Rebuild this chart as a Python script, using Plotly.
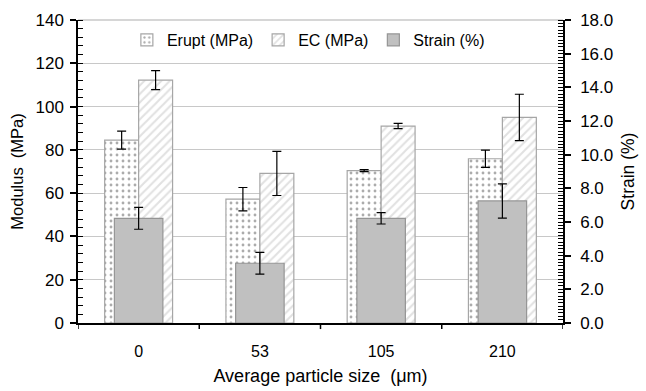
import plotly.graph_objects as go

categories = ["0", "53", "105", "210"]
erupt = [84.5, 57.2, 70.4, 75.9]
erupt_err = [4.2, 5.4, 0.5, 4.0]
ec = [112.2, 69.1, 91.0, 95.0]
ec_err = [4.4, 10.2, 1.2, 10.7]
strain = [6.22, 3.55, 6.22, 7.25]
strain_err = [0.65, 0.65, 0.34, 1.02]

FONT = "Liberation Sans, Arial, sans-serif"

fig = go.Figure()
fig.add_trace(go.Bar(
    x=categories, y=erupt, name="Erupt (MPa)", width=0.28, offset=-0.28,
    marker=dict(color="white", line=dict(color="#a6a6a6", width=1.2),
                pattern=dict(shape=".", fgcolor="#5a5a5a", bgcolor="white", size=6, solidity=0.18)),
    error_y=dict(type="data", array=erupt_err, color="black", thickness=1.2, width=4.5),
))
fig.add_trace(go.Bar(
    x=categories, y=ec, name="EC (MPa)", width=0.28, offset=0.0,
    marker=dict(color="white", line=dict(color="#a6a6a6", width=1.2),
                pattern=dict(shape="/", fgcolor="#c4c4c4", bgcolor="white", size=6, solidity=0.35)),
    error_y=dict(type="data", array=ec_err, color="black", thickness=1.2, width=4.5),
))
fig.add_trace(go.Bar(
    x=categories, y=strain, name="Strain (%)", width=0.40, offset=-0.20, yaxis="y2",
    marker=dict(color="#c0c0c0", line=dict(color="#959595", width=1.2)),
    error_y=dict(type="data", array=strain_err, color="black", thickness=1.2, width=4.5),
))

fig.update_layout(
    width=646, height=391,
    margin=dict(l=78, r=83, t=20, b=68, autoexpand=False),
    plot_bgcolor="white", paper_bgcolor="white",
    barmode="overlay",
    font=dict(family=FONT, size=16, color="black"),
    showlegend=True,
    legend=dict(orientation="h", x=0.475, xanchor="center", y=0.99, yanchor="top",
                bgcolor="rgba(255,255,255,0)", font=dict(size=16), itemwidth=30,
                traceorder="normal"),
    xaxis=dict(
        type="category", showline=True, linecolor="black", linewidth=1.5,
        ticks="", showgrid=False, range=[-0.5, 3.5], automargin=False,
        tickfont=dict(size=16), ticklabelstandoff=13,
        title=dict(text="Average particle size  (μm)", font=dict(size=18), standoff=10),
    ),
    yaxis=dict(
        range=[0, 140], dtick=20, showline=True, linecolor="black", linewidth=1.5,
        ticks="outside", ticklen=6, tickcolor="black", tickwidth=1.5, automargin=False,
        minor=dict(dtick=4, ticks="inside", ticklen=5, tickcolor="black", tickwidth=1),
        showgrid=True, gridcolor="#c8c8c8", gridwidth=1.3,
        tickfont=dict(size=17), ticklabelstandoff=3,
        title=dict(text="Modulus  (MPa)", font=dict(size=16.5), standoff=8),
        zeroline=False,
    ),
    yaxis2=dict(
        overlaying="y", side="right", range=[0, 18], dtick=2, tickformat=".1f",
        showline=True, linecolor="black", linewidth=1.5, automargin=False,
        ticks="outside", ticklen=6, tickcolor="black", tickwidth=1.5,
        minor=dict(dtick=0.2, ticks="inside", ticklen=5, tickcolor="black", tickwidth=1),
        showgrid=False, zeroline=False,
        tickfont=dict(size=17), ticklabelstandoff=6,
        title=dict(text="Strain (%)", font=dict(size=17.5), standoff=10),
    ),
)

# category boundary ticks on the x axis
for b in [-0.5, 0.5, 1.5, 2.5, 3.5]:
    fig.add_shape(type="line", xref="x", yref="paper", x0=b, x1=b, y0=0, y1=-0.02,
                  line=dict(color="black", width=1.5))
# top border line
fig.add_shape(type="line", xref="paper", yref="paper", x0=0, x1=1, y0=1, y1=1,
              line=dict(color="#c8c8c8", width=1.3), layer="below")

fig.write_html("out.html")
